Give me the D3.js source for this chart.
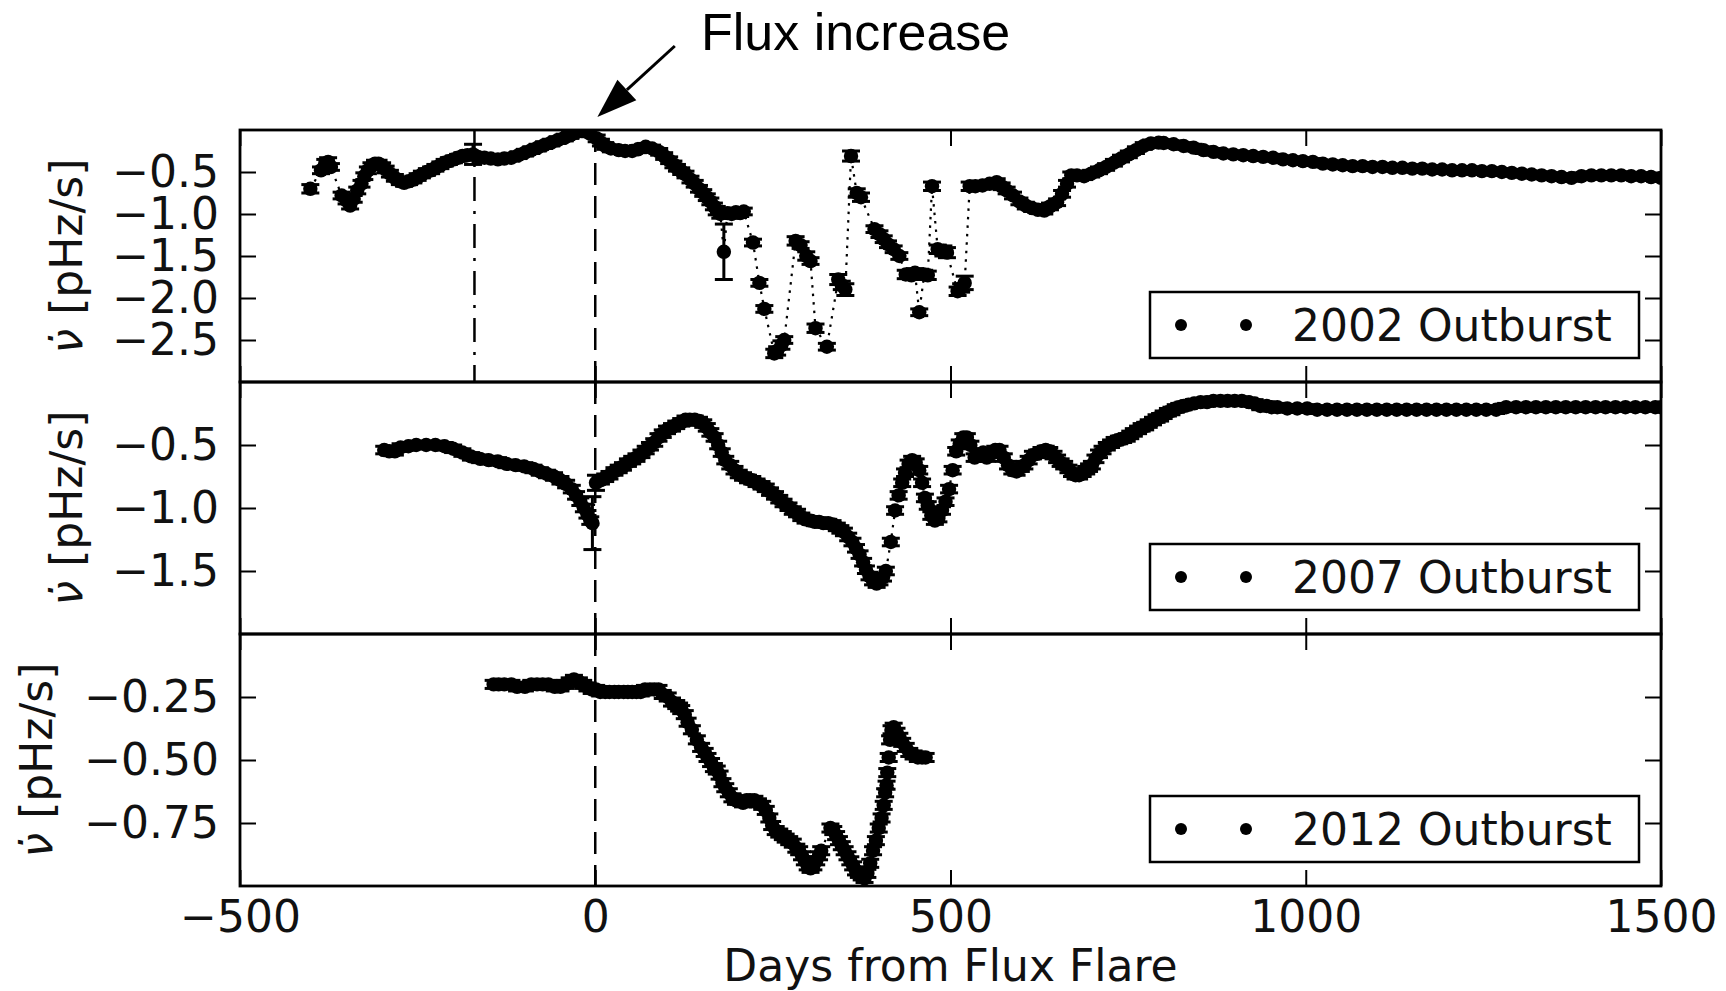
<!DOCTYPE html>
<html>
<head>
    <meta charset="utf-8">
    <title>Spin-down rate after flux flares</title>
    <script src="https://cdnjs.cloudflare.com/ajax/libs/d3/7.8.5/d3.min.js"></script>
    <style>
        body { margin: 0; background: #fff; }
        text { font-family: "DejaVu Sans", sans-serif; }
    </style>
</head>
<body>
<div id="vis"></div>
<script>
    // [day from flare, nu-dot in pHz/s, error (optional)]
    var outburst2002 = [
        [-401,-0.70,0.05],[-386,-0.48,0.04],[-380,-0.40,0.05],[-376,-0.38,0.05],[-372,-0.44,0.04],
        [-357,-0.78,0.04],[-350,-0.84,0.04],[-345,-0.90,0.04],[-340,-0.82],[-335,-0.72],[-329,-0.64],
        [-325,-0.55],[-320,-0.48],[-315,-0.43],[-310,-0.40],[-305,-0.40],[-300,-0.43],[-295,-0.47],
        [-289,-0.52],[-282,-0.57],[-275,-0.61],[-269,-0.63],[-262,-0.61],[-256,-0.59],[-250,-0.56],
        [-244,-0.53],[-237,-0.50],[-231,-0.48],[-225,-0.45],[-218,-0.42],[-212,-0.39],[-206,-0.37],
        [-199,-0.35],[-193,-0.33],[-187,-0.31],[-180,-0.30],[-172,-0.29,0.12],[-165,-0.32],[-156,-0.33],
        [-147,-0.34],[-137,-0.35],[-128,-0.34],[-118,-0.33],[-108,-0.30],[-99,-0.27],[-90,-0.24],
        [-81,-0.21],[-72,-0.18],[-62,-0.15],[-53,-0.12],[-43,-0.09],[-35,-0.06],[-27,-0.03],[-18,-0.01],
        [-8,-0.04],[2,-0.10],[8,-0.15],[14,-0.19],[22,-0.22],[33,-0.24],[42,-0.25],[52,-0.25],[60,-0.23],
        [71,-0.20],[80,-0.22],[90,-0.26],[97,-0.31],[104,-0.36],[110,-0.41],[115,-0.45],[121,-0.49],
        [127,-0.53],[134,-0.59],[140,-0.64],[146,-0.70],[152,-0.75],[157,-0.80],[162,-0.85],[167,-0.91],
        [171,-0.96,0.05],[176,-1.00,0.05],[181,-1.45,0.33],[186,-0.99,0.05],[192,-1.00,0.05],
        [198,-0.98,0.05],[204,-0.99,0.04],[209,-0.97,0.04],[222,-1.34,0.04],[231,-1.82,0.04],
        [238,-2.13,0.04],[252,-2.66,0.05],[256,-2.63,0.05],[262,-2.56,0.05],[266,-2.50,0.04],
        [282,-1.32,0.05],[289,-1.37,0.04],[297,-1.50,0.05],[303,-1.56,0.04],[310,-2.36,0.05],
        [326,-2.58,0.04],[342,-1.78,0.06],[347,-1.85,0.05],[352,-1.90,0.07],[360,-0.31,0.06],
        [368,-0.75,0.05],[374,-0.80,0.05],[393,-1.18,0.04],[400,-1.24,0.04],[406,-1.30,0.04],
        [412,-1.36,0.04],[420,-1.42,0.04],[428,-1.50,0.04],[437,-1.72,0.05],[445,-1.73,0.05],
        [450,-1.70,0.05],[456,-2.17,0.04],[463,-1.72,0.05],[468,-1.73,0.05],[474,-0.67,0.05],
        [482,-1.42,0.05],[490,-1.44,0.06],[495,-1.46,0.06],[510,-1.92,0.05],[515,-1.88,0.05],
        [520,-1.82,0.08],[527,-0.67,0.05],[535,-0.67,0.04],[545,-0.66],[555,-0.64],[565,-0.62],
        [572,-0.67],[579,-0.72],[588,-0.78],[597,-0.85],[606,-0.90],[615,-0.93],[623,-0.95],[632,-0.96],
        [640,-0.91],[650,-0.86],[657,-0.76],[664,-0.64],[670,-0.54],[678,-0.54],[688,-0.55],[698,-0.52],
        [709,-0.48],[719,-0.44],[730,-0.39],[740,-0.34],[751,-0.29],[761,-0.24],[772,-0.19],[782,-0.16],
        [793,-0.15],[800,-0.155],[814,-0.17],[828,-0.19],[842,-0.21],[856,-0.24],[870,-0.26],[884,-0.28],
        [898,-0.29],[912,-0.30],[926,-0.31],[940,-0.32],[954,-0.33],[968,-0.35],[982,-0.36],[996,-0.37],
        [1010,-0.38],[1024,-0.40],[1038,-0.41],[1052,-0.42],[1066,-0.43],[1080,-0.43],[1094,-0.44],
        [1108,-0.44],[1122,-0.45],[1136,-0.45],[1150,-0.46],[1164,-0.46],[1178,-0.47],[1192,-0.47],
        [1206,-0.48],[1220,-0.48],[1234,-0.48],[1248,-0.49],[1262,-0.49],[1276,-0.50],[1290,-0.51],
        [1304,-0.52],[1318,-0.53],[1332,-0.54],[1346,-0.55],[1360,-0.56],[1374,-0.57],[1388,-0.55],
        [1402,-0.54],[1416,-0.54],[1430,-0.54],[1444,-0.54],[1458,-0.55],[1472,-0.55],[1486,-0.56],
        [1500,-0.57]
    ];

    var outburst2007 = [
        [-297,-0.54],[-290,-0.55],[-282,-0.55],[-274,-0.52],[-263,-0.51],[-252,-0.50],[-238,-0.50],
        [-225,-0.50],[-212,-0.51],[-200,-0.53],[-187,-0.56],[-175,-0.59],[-162,-0.61],[-150,-0.62],
        [-137,-0.63],[-125,-0.65],[-112,-0.66],[-100,-0.67],[-87,-0.69],[-78,-0.71],[-68,-0.73],
        [-58,-0.75],[-49,-0.78],[-41,-0.81],[-33,-0.85],[-27,-0.90],[-21,-0.95],[-16,-1.00],[-11,-1.05],
        [-7,-1.10],[-4,-1.12,0.21],[1,-0.80,0.06],[8,-0.78],[14,-0.76],[20,-0.74],[27,-0.71],[33,-0.69],
        [39,-0.67],[46,-0.64],[52,-0.62],[58,-0.60],[65,-0.57],[71,-0.54],[77,-0.51],[83,-0.48],
        [89,-0.44],[95,-0.41],[101,-0.38],[108,-0.36],[114,-0.34],[121,-0.32],[127,-0.30],[133,-0.30],
        [140,-0.30],[146,-0.31],[152,-0.33],[157,-0.36],[162,-0.40],[168,-0.44],[173,-0.50],[178,-0.56],
        [183,-0.62],[190,-0.66],[196,-0.70],[202,-0.73],[208,-0.75],[215,-0.77],[221,-0.78],[227,-0.80],
        [234,-0.82],[240,-0.84],[246,-0.87],[253,-0.90],[259,-0.93],[265,-0.96],[272,-0.99],[278,-1.02],
        [284,-1.04],[290,-1.07],[296,-1.09],[303,-1.10],[309,-1.11],[315,-1.11],[321,-1.12],[328,-1.12],
        [334,-1.13],[340,-1.15],[345,-1.17],[350,-1.19],[356,-1.23],[362,-1.27],[367,-1.32],[372,-1.37],
        [377,-1.43],[381,-1.49],[386,-1.54],[391,-1.58],[396,-1.60],[400,-1.58],[405,-1.55],[409,-1.50],
        [416,-1.27],[422,-1.02],[427,-0.90],[432,-0.80],[436,-0.72],[441,-0.65],[446,-0.62],[451,-0.64],
        [456,-0.70],[460,-0.80],[464,-0.92],[468,-0.98],[473,-1.06],[478,-1.10],[483,-1.08],[488,-1.02],
        [493,-0.95],[498,-0.85],[503,-0.70],[508,-0.55],[513,-0.49],[518,-0.44],[523,-0.44],[528,-0.50],
        [534,-0.60],[540,-0.58],[546,-0.56],[551,-0.60],[557,-0.57],[563,-0.54],[569,-0.54],[575,-0.60],
        [581,-0.66],[587,-0.70],[593,-0.71],[599,-0.68],[604,-0.66],[610,-0.62],[616,-0.58],[622,-0.57],
        [628,-0.55],[634,-0.54],[639,-0.55],[645,-0.58],[650,-0.61],[655,-0.64],[660,-0.66],[666,-0.69],
        [671,-0.72],[676,-0.74],[681,-0.74],[686,-0.72],[691,-0.70],[695,-0.68],[699,-0.66],[704,-0.61],
        [709,-0.57],[714,-0.54],[720,-0.51],[726,-0.49],[731,-0.47],[737,-0.46],[743,-0.45],[748,-0.44],
        [753,-0.42],[758,-0.40],[764,-0.38],[769,-0.36],[774,-0.35],[779,-0.33],[785,-0.31],[790,-0.29],
        [795,-0.28],[800,-0.26],[806,-0.24],[811,-0.23],[817,-0.21],[822,-0.20],[828,-0.19],[835,-0.18],
        [843,-0.17],[852,-0.16],[861,-0.16],[870,-0.15],[880,-0.15],[890,-0.15],[900,-0.15],[910,-0.15],
        [920,-0.16],[928,-0.17],[936,-0.19],[945,-0.19],[952,-0.20],[960,-0.20],[974,-0.21],[988,-0.21],
        [1002,-0.21],[1016,-0.22],[1030,-0.22],[1044,-0.22],[1058,-0.22],[1072,-0.22],[1086,-0.22],
        [1100,-0.22],[1114,-0.22],[1128,-0.22],[1142,-0.22],[1156,-0.22],[1170,-0.22],[1184,-0.22],
        [1198,-0.22],[1212,-0.22],[1226,-0.22],[1240,-0.22],[1254,-0.22],[1268,-0.22],[1282,-0.20],
        [1296,-0.20],[1310,-0.20],[1324,-0.20],[1338,-0.20],[1352,-0.20],[1366,-0.20],[1380,-0.20],
        [1394,-0.20],[1408,-0.20],[1422,-0.20],[1436,-0.20],[1450,-0.20],[1464,-0.20],[1478,-0.20],
        [1492,-0.20],[1500,-0.20]
    ];

    var outburst2012 = [
        [-143,-0.20],[-136,-0.20],[-128,-0.20],[-118,-0.20],[-110,-0.21],[-99,-0.21],[-90,-0.20],
        [-82,-0.20],[-74,-0.20],[-66,-0.20],[-57,-0.21],[-49,-0.21],[-42,-0.20],[-36,-0.19],[-30,-0.18],
        [-23,-0.19],[-17,-0.20],[-11,-0.21],[-5,-0.22],[1,-0.22],[7,-0.23],[14,-0.23],[20,-0.23],
        [27,-0.23],[33,-0.23],[40,-0.23],[46,-0.23],[52,-0.23],[58,-0.23],[64,-0.23],[70,-0.22],
        [77,-0.22],[83,-0.22],[89,-0.22],[95,-0.24],[102,-0.25],[108,-0.27],[114,-0.28],[118,-0.29],
        [121,-0.30],[126,-0.32],[130,-0.35],[136,-0.38],[143,-0.42],[149,-0.45],[154,-0.47],[158,-0.49],
        [163,-0.51],[167,-0.53],[171,-0.54],[175,-0.56],[179,-0.59],[183,-0.61],[188,-0.63],[193,-0.65],
        [198,-0.66],[202,-0.66],[208,-0.67],[213,-0.66],[218,-0.66],[224,-0.66],[229,-0.67],[235,-0.68],
        [240,-0.70],[245,-0.73],[249,-0.76],[254,-0.78],[259,-0.79],[264,-0.80],[268,-0.81],[273,-0.82],
        [278,-0.83],[283,-0.85],[287,-0.86],[291,-0.88],[295,-0.90],[299,-0.92],[303,-0.93],[307,-0.92],
        [311,-0.90],[315,-0.88],[318,-0.86],[331,-0.77],[335,-0.78],[339,-0.80],[343,-0.82],[347,-0.84],
        [351,-0.86],[355,-0.88],[359,-0.90],[363,-0.92],[367,-0.94],[371,-0.95],[375,-0.96],[379,-0.97],
        [383,-0.95],[387,-0.91],[391,-0.86],[395,-0.82],[399,-0.77],[403,-0.73],[406,-0.68],[408,-0.63],
        [410,-0.60],[411,-0.55],[413,-0.49],[415,-0.42],[417,-0.38],[420,-0.37],[424,-0.39],[428,-0.41],
        [432,-0.43],[437,-0.45],[442,-0.47],[448,-0.48],[454,-0.49],[460,-0.49],[465,-0.49]
    ];

    var xTicks = [-500, 0, 500, 1000, 1500];
    var yTicks2002 = [-0.5, -1.0, -1.5, -2.0, -2.5];
    var yTicks2007 = [-0.5, -1.0, -1.5];
    var yTicks2012 = [-0.25, -0.5, -0.75];
    var yDomain2002 = [-3, 0];
    var yDomain2007 = [-2, 0];
    var yDomain2012 = [-1, 0];
    var legendLabels = ["2002 Outburst", "2007 Outburst", "2012 Outburst"];
    var flareDay = 0;        // dashed line
    var earlierFlareDay = -170; // dash-dot line, 2002 panel only

    var W = 1726, H = 991;
    var left = 240, right = 1661, top0 = 130, panelH = 252;
    var fontSize = 44;

    var svg = d3.select("#vis").append("svg")
        .attr("width", W)
        .attr("height", H)
        .style("background", "#fff");

    var x = d3.scaleLinear().domain([-500, 1500]).range([left, right]);

    var panels = [
        { data: outburst2002, domain: yDomain2002, ticks: yTicks2002, fmt: ".1f", label: legendLabels[0], err: 0.04, labelX: 68 },
        { data: outburst2007, domain: yDomain2007, ticks: yTicks2007, fmt: ".1f", label: legendLabels[1], err: 0.03, labelX: 68 },
        { data: outburst2012, domain: yDomain2012, ticks: yTicks2012, fmt: ".2f", label: legendLabels[2], err: 0.016, labelX: 38 }
    ];

    function styleAxis(g) {
        g.select(".domain").remove();
        g.selectAll(".tick line").attr("stroke", "#000").attr("stroke-width", 2);
        g.selectAll("text").attr("font-family", "DejaVu Sans").attr("font-size", fontSize).attr("fill", "#111");
        g.attr("font-family", null).attr("font-size", null);
    }

    panels.forEach(function(p, i) {
        var top = top0 + i * panelH, bottom = top + panelH;
        var y = d3.scaleLinear().domain(p.domain).range([bottom, top]);
        var errOf = function(d) { return d.length > 2 ? d[2] : p.err; };

        svg.append("clipPath").attr("id", "clip" + i)
            .append("rect")
            .attr("x", left).attr("y", top)
            .attr("width", right - left).attr("height", panelH);

        var plot = svg.append("g").attr("clip-path", "url(#clip" + i + ")");

        // flare marker lines
        plot.append("line")
            .attr("x1", x(flareDay)).attr("x2", x(flareDay))
            .attr("y1", top).attr("y2", bottom)
            .attr("stroke", "#000").attr("stroke-width", 2.5)
            .attr("stroke-dasharray", "22,11");
        if (i == 0) {
            plot.append("line")
                .attr("x1", x(earlierFlareDay)).attr("x2", x(earlierFlareDay))
                .attr("y1", top).attr("y2", bottom)
                .attr("stroke", "#000").attr("stroke-width", 2.5)
                .attr("stroke-dasharray", "24,10,3,10");
        }

        // dotted connecting line
        var line = d3.line().x(function(d) { return x(d[0]); }).y(function(d) { return y(d[1]); });
        plot.append("path").datum(p.data)
            .attr("d", line)
            .attr("fill", "none")
            .attr("stroke", "#000")
            .attr("stroke-width", 2.2)
            .attr("stroke-dasharray", "2.5,6");

        // error bars with caps
        var eb = plot.selectAll(".eb").data(p.data).enter().append("g").attr("class", "eb");
        eb.append("line")
            .attr("x1", function(d) { return x(d[0]); })
            .attr("x2", function(d) { return x(d[0]); })
            .attr("y1", function(d) { return y(d[1] + errOf(d)); })
            .attr("y2", function(d) { return y(d[1] - errOf(d)); })
            .attr("stroke", "#000").attr("stroke-width", 3);
        [1, -1].forEach(function(s) {
            eb.append("line")
                .attr("x1", function(d) { return x(d[0]) - 9; })
                .attr("x2", function(d) { return x(d[0]) + 9; })
                .attr("y1", function(d) { return y(d[1] + s * errOf(d)); })
                .attr("y2", function(d) { return y(d[1] + s * errOf(d)); })
                .attr("stroke", "#000").attr("stroke-width", 3);
        });

        plot.selectAll(".pt").data(p.data).enter().append("circle")
            .attr("class", "pt")
            .attr("cx", function(d) { return x(d[0]); })
            .attr("cy", function(d) { return y(d[1]); })
            .attr("r", 7.2)
            .attr("fill", "#000");

        // axes: ticks inside on all four sides
        svg.append("g").attr("transform", "translate(" + left + ",0)")
            .call(d3.axisLeft(y).tickValues(p.ticks).tickFormat(d3.format(p.fmt))
                .tickSizeInner(-16).tickSizeOuter(0).tickPadding(21))
            .call(styleAxis);
        svg.append("g").attr("transform", "translate(" + right + ",0)")
            .call(d3.axisRight(y).tickValues(p.ticks).tickFormat("")
                .tickSizeInner(-16).tickSizeOuter(0))
            .call(styleAxis);
        svg.append("g").attr("transform", "translate(0," + top + ")")
            .call(d3.axisTop(x).tickValues(xTicks).tickFormat("")
                .tickSizeInner(-16).tickSizeOuter(0))
            .call(styleAxis);
        svg.append("g").attr("transform", "translate(0," + bottom + ")")
            .call(d3.axisBottom(x).tickValues(xTicks)
                .tickFormat(i == 2 ? d3.format("d") : "")
                .tickSizeInner(-16).tickSizeOuter(0).tickPadding(15))
            .call(styleAxis);

        // frame
        svg.append("rect")
            .attr("x", left).attr("y", top)
            .attr("width", right - left).attr("height", panelH)
            .attr("fill", "none").attr("stroke", "#000").attr("stroke-width", 2.8);

        // y label
        var yl = svg.append("text")
            .attr("transform", "translate(" + p.labelX + "," + (top + panelH / 2) + ") rotate(-90)")
            .attr("text-anchor", "middle")
            .attr("dy", "0.32em")
            .attr("font-size", fontSize)
            .attr("fill", "#111");
        yl.append("tspan").attr("font-style", "italic").text("\u03BD\u0307");
        yl.append("tspan").text(" [pHz/s]");

        // legend
        var lw = 489, lh = 66;
        var lx = right - 22 - lw, ly = bottom - 24 - lh;
        var lg = svg.append("g");
        lg.append("rect")
            .attr("x", lx).attr("y", ly).attr("width", lw).attr("height", lh)
            .attr("fill", "#fff").attr("stroke", "#000").attr("stroke-width", 2.5);
        lg.selectAll("circle").data([31, 96]).enter().append("circle")
            .attr("cx", function(d) { return lx + d; })
            .attr("cy", ly + lh / 2)
            .attr("r", 6)
            .attr("fill", "#000");
        lg.append("text")
            .attr("x", lx + 142)
            .attr("y", ly + lh / 2 + 16)
            .attr("font-size", fontSize)
            .attr("fill", "#111")
            .text(p.label);
    });

    // x axis label
    svg.append("text")
        .attr("x", (left + right) / 2)
        .attr("y", 981)
        .attr("text-anchor", "middle")
        .attr("font-size", fontSize)
        .attr("fill", "#111")
        .text("Days from Flux Flare");

    // annotation arrow
    var tip = [x(3), top0 - 13], tail = [x(112), 46];
    var dx = tip[0] - tail[0], dy = tip[1] - tail[1], len = Math.sqrt(dx * dx + dy * dy);
    var ux = dx / len, uy = dy / len, hl = 40, hw = 14;
    var bx = tip[0] - hl * ux, by = tip[1] - hl * uy;
    svg.append("line")
        .attr("x1", tail[0]).attr("y1", tail[1])
        .attr("x2", bx).attr("y2", by)
        .attr("stroke", "#000").attr("stroke-width", 3);
    svg.append("path")
        .attr("d", "M" + tip[0] + "," + tip[1] +
            "L" + (bx + hw * uy) + "," + (by - hw * ux) +
            "L" + (bx - hw * uy) + "," + (by + hw * ux) + "Z")
        .attr("fill", "#000");

    svg.append("text")
        .attr("x", 701)
        .attr("y", 50)
        .style("font-family", "'Liberation Sans', Arial, sans-serif")
        .attr("font-size", 52)
        .attr("fill", "#000")
        .text("Flux increase");
</script>
</body>
</html>
